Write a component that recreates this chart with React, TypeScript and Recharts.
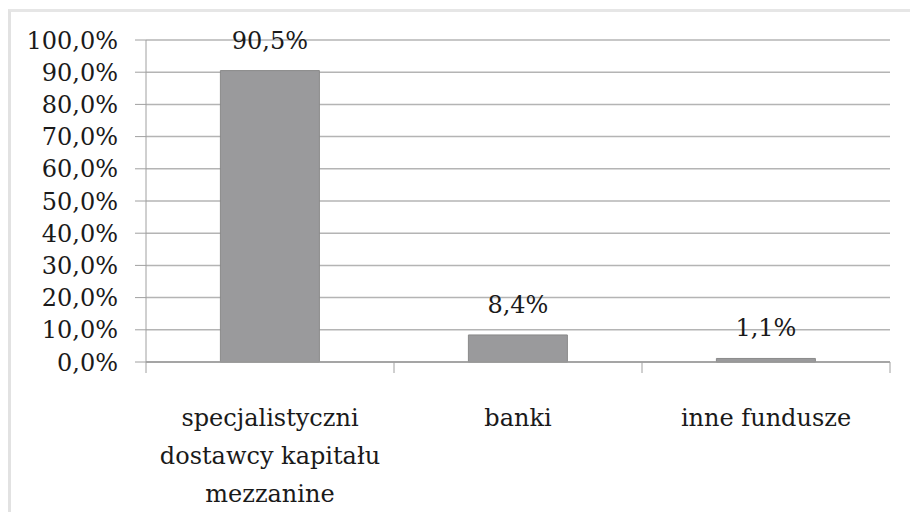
import React from 'react';
import { BarChart, Bar, XAxis, YAxis, CartesianGrid, LabelList } from 'recharts';

const categories = ['specjalistyczni\ndostawcy kapitału\nmezzanine', 'banki', 'inne fundusze'];
const shares = [90.5, 8.4, 1.1];
const yTicks = [0, 10, 20, 30, 40, 50, 60, 70, 80, 90, 100];

const data = categories.map((c, i) => ({ name: c, value: shares[i] }));

const FONT = 'DejaVu Serif';
const W = 910;
const H = 512;
const M = { top: 40, right: 20, left: 0, bottom: 0 };
const Y_W = 146;
const PLOT_W = W - M.left - M.right - Y_W;
const BAND = PLOT_W / categories.length;

const fmt = (v: number) => v.toFixed(1).replace('.', ',') + '%';

const XTick = (props: any) => {
  const { x, y, payload, index } = props;
  const lines = String(payload.value).split('\n');
  const left = x - BAND / 2;
  const right = x + BAND / 2;
  return (
    <g>
      <line x1={left} x2={left} y1={y - 8} y2={y + 3} stroke="#a0a0a0" strokeWidth={1} />
      {index === categories.length - 1 && (
        <line x1={right} x2={right} y1={y - 8} y2={y + 3} stroke="#a0a0a0" strokeWidth={1} />
      )}
      <text x={x} y={y + 56} textAnchor="middle" fontFamily={FONT} fontSize={24} fill="#1a1a1a">
        {lines.map((l, i) => (
          <tspan key={i} x={x} dy={i === 0 ? 0 : 38}>{l}</tspan>
        ))}
      </text>
    </g>
  );
};

export default function App() {
  return (
    <div style={{ position: 'absolute', left: 0, top: 0, width: W, height: H, background: '#fff' }}>
      <div style={{ position: 'absolute', left: 8, top: 9, right: 0, bottom: 0, borderTop: '3px solid #e6e6e6', borderLeft: '3px solid #e2e2e2' }} />
      <div style={{ position: 'absolute', left: 0, top: 0 }}>
        <BarChart width={W} height={H} data={data} margin={M} barCategoryGap="30%">
          <CartesianGrid vertical={false} stroke="#b4b4b4" strokeWidth={1.5} />
          <XAxis
            dataKey="name"
            height={H - 362 - M.bottom}
            axisLine={{ stroke: '#9a9a9a', strokeWidth: 1.5 }}
            tickLine={false}
            interval={0}
            tick={<XTick />}
          />
          <YAxis
            width={Y_W}
            domain={[0, 100]}
            ticks={yTicks}
            interval={0}
            tickFormatter={fmt}
            axisLine={{ stroke: '#a0a0a0', strokeWidth: 1 }}
            tickLine={{ stroke: '#a0a0a0' }}
            tickSize={11}
            tickMargin={17}
            tick={{ fontSize: 24, fill: '#1a1a1a', fontFamily: FONT }}
          />
          <Bar dataKey="value" fill="#9a9a9c" stroke="#8a8a8a" strokeWidth={1} isAnimationActive={false}>
            <LabelList dataKey="value" position="top" offset={22} formatter={(v: any) => fmt(Number(v))} fontFamily={FONT} fontSize={24} fill="#1a1a1a" />
          </Bar>
        </BarChart>
      </div>
    </div>
  );
}
